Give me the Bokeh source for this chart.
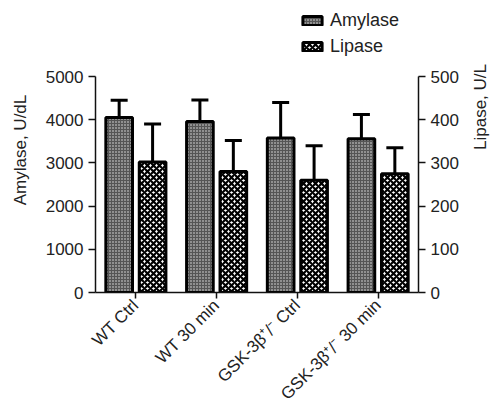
import math
from bokeh.plotting import figure
from bokeh.models import (ColumnDataSource, Range1d, LinearAxis, FixedTicker, Whisker,
                          TeeHead, Legend, LegendItem)
from bokeh.transform import dodge
from bokeh.embed import file_html
from bokeh.resources import INLINE

categories = ["WT Ctrl", "WT 30 min", "GSK-3β⁺/⁻ Ctrl", "GSK-3β⁺/⁻ 30 min"]
amylase = [4050, 3960, 3580, 3560]
amylase_err = [400, 500, 820, 560]
lipase = [302, 280, 260, 275]
lipase_err = [88, 72, 80, 60]
amy_ticks = [0, 1000, 2000, 3000, 4000, 5000]
lip_ticks = [0, 100, 200, 300, 400, 500]

src = ColumnDataSource(dict(
    cat=categories,
    amy=amylase,
    amy_hi=[a + e for a, e in zip(amylase, amylase_err)],
    lip=lipase,
    lip_hi=[a + e for a, e in zip(lipase, lipase_err)],
))

FONT = "Liberation Sans"
TXT = "#222222"

# frame extends above the 5000 tick to leave room for the legend; axes are bounded
p = figure(frame_width=323, frame_height=285, x_range=categories, y_range=Range1d(0, 6600),
           output_backend="svg", toolbar_location=None,
           min_border_left=95, min_border_right=80, min_border_top=7, min_border_bottom=100)
p.x_range.range_padding = 0
p.extra_y_ranges = {"lip": Range1d(0, 660)}
p.grid.visible = False
p.outline_line_color = None

off = 0.207
w = 0.33
r1 = p.vbar(x=dodge("cat", -off, range=p.x_range), top="amy", width=w, source=src,
            fill_color="#555555", line_color="black", line_width=3,
            hatch_pattern="dot", hatch_color="#e8e8e8", hatch_scale=3, hatch_weight=1)
r2 = p.vbar(x=dodge("cat", off, range=p.x_range), top="lip", width=w, source=src,
            y_range_name="lip",
            fill_color="white", line_color="black", line_width=3,
            hatch_pattern="diagonal_cross", hatch_color="black", hatch_scale=6, hatch_weight=2.2)

wk1 = Whisker(source=src, base=dodge("cat", -off, range=p.x_range), upper="amy_hi", lower="amy",
              line_width=3, line_color="black", lower_head=None,
              upper_head=TeeHead(size=17, line_width=3, line_color="black"))
wk2 = Whisker(source=src, base=dodge("cat", off, range=p.x_range), upper="lip_hi", lower="lip",
              y_range_name="lip",
              line_width=3, line_color="black", lower_head=None,
              upper_head=TeeHead(size=17, line_width=3, line_color="black"))
p.add_layout(wk1)
p.add_layout(wk2)

def style_axis(ax):
    ax.axis_line_width = 1.5
    ax.axis_line_color = "#111111"
    ax.major_tick_line_width = 1.5
    ax.major_tick_line_color = "#111111"
    ax.major_tick_in = 0
    ax.major_tick_out = 7
    ax.minor_tick_line_color = None
    ax.major_label_text_font = FONT
    ax.major_label_text_font_size = "17px"
    ax.major_label_text_color = TXT
    ax.axis_label_text_font = FONT
    ax.axis_label_text_font_size = "17px"
    ax.axis_label_text_font_style = "normal"
    ax.axis_label_text_color = TXT

ya = p.yaxis[0]
ya.ticker = FixedTicker(ticks=amy_ticks)
ya.bounds = (0, 5000)
ya.axis_label = "Amylase, U/dL"
ya.axis_label_standoff = 13
style_axis(ya)

ra = LinearAxis(y_range_name="lip", ticker=FixedTicker(ticks=lip_ticks), bounds=(0, 500),
                axis_label="Lipase, U/L")
style_axis(ra)
ra.axis_label_standoff = 19
ra.axis_label_orientation = math.pi / 2
p.add_layout(ra, "right")

xa = p.xaxis[0]
style_axis(xa)
xa.major_tick_out = 6
xa.major_label_orientation = math.pi / 4
xa.major_label_standoff = 4

legend = Legend(items=[LegendItem(label="Amylase", renderers=[r1]),
                       LegendItem(label="Lipase", renderers=[r2])],
                location=(205, 235), padding=0, margin=0, spacing=5,
                glyph_width=24, glyph_height=11, label_height=20, label_standoff=6,
                border_line_color=None, background_fill_alpha=0,
                label_text_font=FONT, label_text_font_size="18px", label_text_color=TXT)
p.add_layout(legend, "center")

open("out.html", "w").write(file_html(p, INLINE))
